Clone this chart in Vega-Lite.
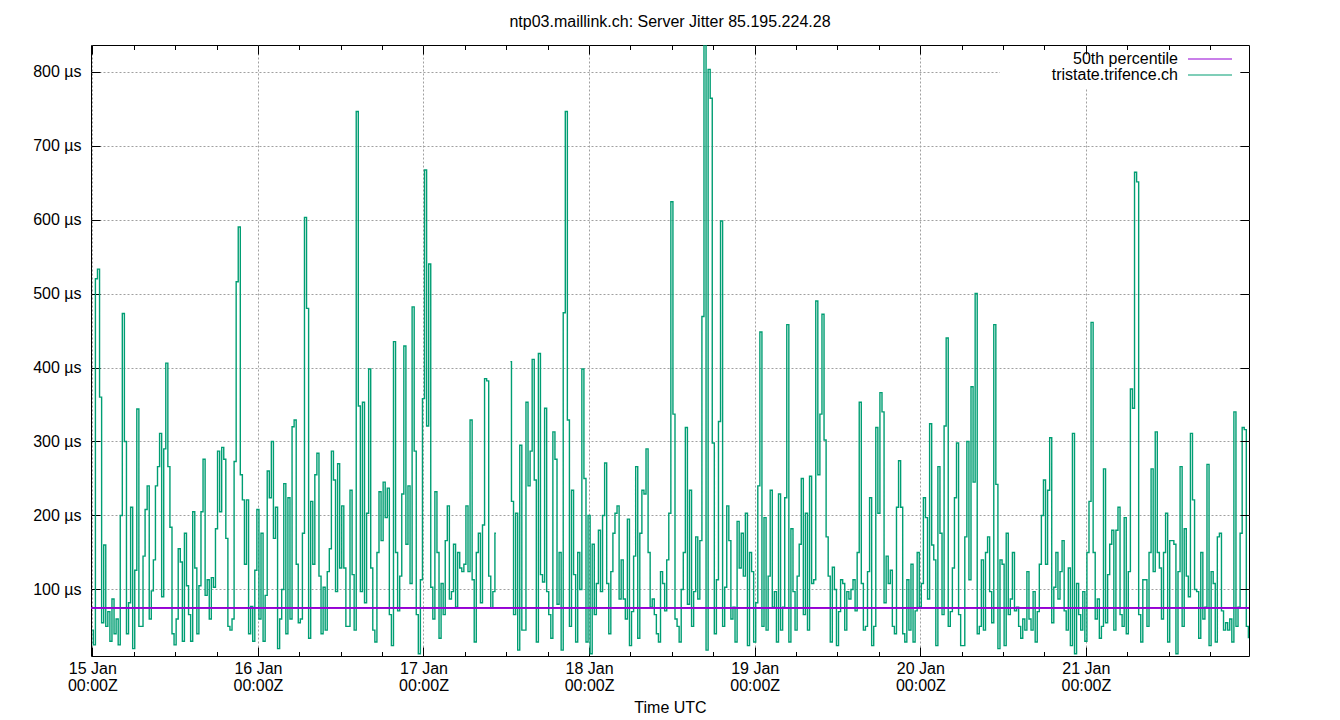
{
"$schema":"https://vega.github.io/schema/vega-lite/v6.json",
"width":1158,"height":611,
"autosize":{"type":"none"},
"padding":{"left":91,"top":45,"right":91,"bottom":64},
"background":"white",
"title":{"text":"ntp03.maillink.ch: Server Jitter 85.195.224.28","frame":"group","anchor":"middle","baseline":"alphabetic","offset":2,"fontSize":16,"font":"Liberation Sans","fontWeight":"normal","color":"black"},
"datasets":{
"jitter":[
{"i":0,"v":45},{"i":1,"v":25},{"i":2,"v":520},{"i":3,"v":533},{"i":4,"v":360},{"i":5,"v":55},{"i":6,"v":160},{"i":7,"v":50},{"i":8,"v":70},{"i":9,"v":30},
{"i":10,"v":87},{"i":11,"v":40},{"i":12,"v":60},{"i":13,"v":25},{"i":14,"v":200},{"i":15,"v":473},{"i":16,"v":300},{"i":17,"v":40},{"i":18,"v":82},{"i":19,"v":211},
{"i":20,"v":20},{"i":21,"v":126},{"i":22,"v":344},{"i":23,"v":50},{"i":24,"v":50},{"i":25,"v":145},{"i":26,"v":208},{"i":27,"v":240},{"i":28,"v":60},{"i":29,"v":98},
{"i":30,"v":140},{"i":31,"v":240},{"i":32,"v":266},{"i":33,"v":311},{"i":34,"v":90},{"i":35,"v":290},{"i":36,"v":406},{"i":37,"v":266},{"i":38,"v":184},{"i":39,"v":40},
{"i":40,"v":25},{"i":41,"v":60},{"i":42,"v":155},{"i":43,"v":137},{"i":44,"v":30},{"i":45,"v":176},{"i":46,"v":105},{"i":47,"v":66},{"i":48,"v":30},{"i":49,"v":205},
{"i":50,"v":129},{"i":51,"v":40},{"i":52,"v":105},{"i":53,"v":205},{"i":54,"v":276},{"i":55,"v":92},{"i":56,"v":113},{"i":57,"v":60},{"i":58,"v":116},{"i":59,"v":103},
{"i":60,"v":182},{"i":61,"v":287},{"i":62,"v":205},{"i":63,"v":292},{"i":64,"v":276},{"i":65,"v":169},{"i":66,"v":50},{"i":67,"v":45},{"i":68,"v":60},{"i":69,"v":273},
{"i":70,"v":516},{"i":71,"v":590},{"i":72,"v":255},{"i":73,"v":221},{"i":74,"v":134},{"i":75,"v":221},{"i":76,"v":40},{"i":77,"v":77},{"i":78,"v":30},{"i":79,"v":126},
{"i":80,"v":208},{"i":81,"v":60},{"i":82,"v":176},{"i":83,"v":30},{"i":84,"v":92},{"i":85,"v":260},{"i":86,"v":224},{"i":87,"v":300},{"i":88,"v":169},{"i":89,"v":211},
{"i":90,"v":20},{"i":91,"v":60},{"i":92,"v":100},{"i":93,"v":243},{"i":94,"v":40},{"i":95,"v":224},{"i":96,"v":60},{"i":97,"v":320},{"i":98,"v":329},{"i":99,"v":134},
{"i":100,"v":55},{"i":101,"v":60},{"i":102,"v":176},{"i":103,"v":603},{"i":104,"v":480},{"i":105,"v":34},{"i":106,"v":219},{"i":107,"v":134},{"i":108,"v":255},{"i":109,"v":284},
{"i":110,"v":118},{"i":111,"v":40},{"i":112,"v":103},{"i":113,"v":45},{"i":114,"v":124},{"i":115,"v":155},{"i":116,"v":287},{"i":117,"v":248},{"i":118,"v":97},{"i":119,"v":270},
{"i":120,"v":129},{"i":121,"v":213},{"i":122,"v":129},{"i":123,"v":50},{"i":124,"v":50},{"i":125,"v":234},{"i":126,"v":120},{"i":127,"v":45},{"i":128,"v":746},{"i":129,"v":348},
{"i":130,"v":97},{"i":131,"v":353},{"i":132,"v":82},{"i":133,"v":203},{"i":134,"v":398},{"i":135,"v":129},{"i":136,"v":45},{"i":137,"v":29},{"i":138,"v":150},{"i":139,"v":232},
{"i":140,"v":166},{"i":141,"v":245},{"i":142,"v":197},{"i":143,"v":237},{"i":144,"v":66},{"i":145,"v":24},{"i":146,"v":435},{"i":147,"v":150},{"i":148,"v":71},{"i":149,"v":118},
{"i":150,"v":229},{"i":151,"v":429},{"i":152,"v":161},{"i":153,"v":240},{"i":154,"v":108},{"i":155,"v":482},{"i":156,"v":287},{"i":157,"v":66},{"i":158,"v":13},{"i":159,"v":113},
{"i":160,"v":358},{"i":161,"v":667},{"i":162,"v":321},{"i":163,"v":540},{"i":164,"v":103},{"i":165,"v":60},{"i":166,"v":232},{"i":167,"v":150},{"i":168,"v":34},{"i":169,"v":108},
{"i":170,"v":66},{"i":171,"v":166},{"i":172,"v":213},{"i":173,"v":87},{"i":174,"v":97},{"i":175,"v":161},{"i":176,"v":76},{"i":177,"v":150},{"i":178,"v":129},{"i":179,"v":124},
{"i":180,"v":134},{"i":181,"v":213},{"i":182,"v":124},{"i":183,"v":329},{"i":184,"v":113},{"i":185,"v":29},{"i":186,"v":150},{"i":187,"v":176},{"i":188,"v":82},{"i":189,"v":187},
{"i":190,"v":385},{"i":191,"v":382},{"i":192,"v":118},{"i":193,"v":75},{"i":194,"v":97},{"i":195,"v":176},{"i":196,"v":null},{"i":197,"v":null},{"i":198,"v":null},{"i":199,"v":null},
{"i":200,"v":null},{"i":201,"v":null},{"i":202,"v":408},{"i":203,"v":219},{"i":204,"v":66},{"i":205,"v":203},{"i":206,"v":18},{"i":207,"v":295},{"i":208,"v":45},{"i":209,"v":45},
{"i":210,"v":353},{"i":211,"v":240},{"i":212,"v":287},{"i":213,"v":411},{"i":214,"v":248},{"i":215,"v":29},{"i":216,"v":419},{"i":217,"v":120},{"i":218,"v":110},{"i":219,"v":345},
{"i":220,"v":97},{"i":221,"v":66},{"i":222,"v":34},{"i":223,"v":313},{"i":224,"v":276},{"i":225,"v":80},{"i":226,"v":150},{"i":227,"v":18},{"i":228,"v":474},{"i":229,"v":746},
{"i":230,"v":329},{"i":231,"v":50},{"i":232,"v":234},{"i":233,"v":120},{"i":234,"v":29},{"i":235,"v":150},{"i":236,"v":100},{"i":237,"v":398},{"i":238,"v":250},{"i":239,"v":29},
{"i":240,"v":200},{"i":241,"v":13},{"i":242,"v":161},{"i":243,"v":66},{"i":244,"v":108},{"i":245,"v":180},{"i":246,"v":97},{"i":247,"v":200},{"i":248,"v":271},{"i":249,"v":108},
{"i":250,"v":40},{"i":251,"v":124},{"i":252,"v":176},{"i":253,"v":203},{"i":254,"v":213},{"i":255,"v":87},{"i":256,"v":140},{"i":257,"v":87},{"i":258,"v":60},{"i":259,"v":195},
{"i":260,"v":24},{"i":261,"v":70},{"i":262,"v":145},{"i":263,"v":266},{"i":264,"v":34},{"i":265,"v":176},{"i":266,"v":234},{"i":267,"v":229},{"i":268,"v":290},{"i":269,"v":150},
{"i":270,"v":76},{"i":271,"v":87},{"i":272,"v":66},{"i":273,"v":40},{"i":274,"v":29},{"i":275,"v":124},{"i":276,"v":108},{"i":277,"v":71},{"i":278,"v":140},{"i":279,"v":203},
{"i":280,"v":624},{"i":281,"v":337},{"i":282,"v":60},{"i":283,"v":50},{"i":284,"v":29},{"i":285,"v":100},{"i":286,"v":150},{"i":287,"v":319},{"i":288,"v":80},{"i":289,"v":234},
{"i":290,"v":50},{"i":291,"v":97},{"i":292,"v":171},{"i":293,"v":87},{"i":294,"v":166},{"i":295,"v":469},{"i":296,"v":840},{"i":297,"v":18},{"i":298,"v":803},{"i":299,"v":764},
{"i":300,"v":298},{"i":301,"v":40},{"i":302,"v":113},{"i":303,"v":327},{"i":304,"v":598},{"i":305,"v":50},{"i":306,"v":103},{"i":307,"v":213},{"i":308,"v":166},{"i":309,"v":60},
{"i":310,"v":76},{"i":311,"v":29},{"i":312,"v":192},{"i":313,"v":129},{"i":314,"v":176},{"i":315,"v":118},{"i":316,"v":203},{"i":317,"v":24},{"i":318,"v":150},{"i":319,"v":124},
{"i":320,"v":29},{"i":321,"v":82},{"i":322,"v":240},{"i":323,"v":448},{"i":324,"v":50},{"i":325,"v":197},{"i":326,"v":45},{"i":327,"v":118},{"i":328,"v":234},{"i":329,"v":76},
{"i":330,"v":97},{"i":331,"v":29},{"i":332,"v":229},{"i":333,"v":45},{"i":334,"v":76},{"i":335,"v":224},{"i":336,"v":458},{"i":337,"v":29},{"i":338,"v":182},{"i":339,"v":97},
{"i":340,"v":45},{"i":341,"v":118},{"i":342,"v":161},{"i":343,"v":250},{"i":344,"v":66},{"i":345,"v":203},{"i":346,"v":45},{"i":347,"v":253},{"i":348,"v":108},{"i":349,"v":113},
{"i":350,"v":490},{"i":351,"v":255},{"i":352,"v":337},{"i":353,"v":472},{"i":354,"v":302},{"i":355,"v":171},{"i":356,"v":118},{"i":357,"v":29},{"i":358,"v":130},{"i":359,"v":100},
{"i":360,"v":24},{"i":361,"v":70},{"i":362,"v":113},{"i":363,"v":108},{"i":364,"v":45},{"i":365,"v":97},{"i":366,"v":87},{"i":367,"v":100},{"i":368,"v":113},{"i":369,"v":71},
{"i":370,"v":150},{"i":371,"v":353},{"i":372,"v":108},{"i":373,"v":45},{"i":374,"v":50},{"i":375,"v":124},{"i":376,"v":224},{"i":377,"v":24},{"i":378,"v":50},{"i":379,"v":319},
{"i":380,"v":203},{"i":381,"v":366},{"i":382,"v":340},{"i":383,"v":82},{"i":384,"v":145},{"i":385,"v":108},{"i":386,"v":126},{"i":387,"v":50},{"i":388,"v":40},{"i":389,"v":211},
{"i":390,"v":274},{"i":391,"v":211},{"i":392,"v":40},{"i":393,"v":29},{"i":394,"v":113},{"i":395,"v":45},{"i":396,"v":134},{"i":397,"v":29},{"i":398,"v":71},{"i":399,"v":150},
{"i":400,"v":76},{"i":401,"v":108},{"i":402,"v":224},{"i":403,"v":197},{"i":404,"v":87},{"i":405,"v":324},{"i":406,"v":160},{"i":407,"v":140},{"i":408,"v":24},{"i":409,"v":266},
{"i":410,"v":176},{"i":411,"v":66},{"i":412,"v":321},{"i":413,"v":440},{"i":414,"v":50},{"i":415,"v":70},{"i":416,"v":129},{"i":417,"v":224},{"i":418,"v":298},{"i":419,"v":66},
{"i":420,"v":24},{"i":421,"v":24},{"i":422,"v":171},{"i":423,"v":300},{"i":424,"v":113},{"i":425,"v":374},{"i":426,"v":245},{"i":427,"v":500},{"i":428,"v":40},{"i":429,"v":50},
{"i":430,"v":140},{"i":431,"v":45},{"i":432,"v":150},{"i":433,"v":171},{"i":434,"v":97},{"i":435,"v":55},{"i":436,"v":458},{"i":437,"v":242},{"i":438,"v":20},{"i":439,"v":140},
{"i":440,"v":134},{"i":441,"v":24},{"i":442,"v":176},{"i":443,"v":66},{"i":444,"v":87},{"i":445,"v":150},{"i":446,"v":71},{"i":447,"v":76},{"i":448,"v":50},{"i":449,"v":34},
{"i":450,"v":60},{"i":451,"v":45},{"i":452,"v":124},{"i":453,"v":60},{"i":454,"v":45},{"i":455,"v":97},{"i":456,"v":29},{"i":457,"v":70},{"i":458,"v":134},{"i":459,"v":200},
{"i":460,"v":248},{"i":461,"v":134},{"i":462,"v":234},{"i":463,"v":305},{"i":464,"v":55},{"i":465,"v":103},{"i":466,"v":150},{"i":467,"v":87},{"i":468,"v":124},{"i":469,"v":166},
{"i":470,"v":71},{"i":471,"v":45},{"i":472,"v":129},{"i":473,"v":24},{"i":474,"v":311},{"i":475,"v":13},{"i":476,"v":108},{"i":477,"v":66},{"i":478,"v":45},{"i":479,"v":97},
{"i":480,"v":30},{"i":481,"v":150},{"i":482,"v":219},{"i":483,"v":461},{"i":484,"v":150},{"i":485,"v":60},{"i":486,"v":87},{"i":487,"v":34},{"i":488,"v":50},{"i":489,"v":263},
{"i":490,"v":55},{"i":491,"v":120},{"i":492,"v":161},{"i":493,"v":180},{"i":494,"v":45},{"i":495,"v":180},{"i":496,"v":211},{"i":497,"v":66},{"i":498,"v":50},{"i":499,"v":197},
{"i":500,"v":40},{"i":501,"v":124},{"i":502,"v":371},{"i":503,"v":345},{"i":504,"v":664},{"i":505,"v":651},{"i":506,"v":66},{"i":507,"v":29},{"i":508,"v":113},{"i":509,"v":113},
{"i":510,"v":50},{"i":511,"v":150},{"i":512,"v":263},{"i":513,"v":124},{"i":514,"v":313},{"i":515,"v":150},{"i":516,"v":129},{"i":517,"v":60},{"i":518,"v":150},{"i":519,"v":203},
{"i":520,"v":29},{"i":521,"v":166},{"i":522,"v":166},{"i":523,"v":161},{"i":524,"v":13},{"i":525,"v":124},{"i":526,"v":266},{"i":527,"v":50},{"i":528,"v":182},{"i":529,"v":118},
{"i":530,"v":90},{"i":531,"v":311},{"i":532,"v":221},{"i":533,"v":100},{"i":534,"v":97},{"i":535,"v":34},{"i":536,"v":150},{"i":537,"v":60},{"i":538,"v":76},{"i":539,"v":269},
{"i":540,"v":24},{"i":541,"v":124},{"i":542,"v":108},{"i":543,"v":29},{"i":544,"v":171},{"i":545,"v":176},{"i":546,"v":71},{"i":547,"v":45},{"i":548,"v":55},{"i":549,"v":45},
{"i":550,"v":60},{"i":551,"v":29},{"i":552,"v":340},{"i":553,"v":50},{"i":554,"v":76},{"i":555,"v":176},{"i":556,"v":319},{"i":557,"v":316},{"i":558,"v":50},{"i":559,"v":35}
],
"median":[{"i":-0.63,"v":75},{"i":558.8,"v":75}]
},
"layer":[
{"data":{"name":"jitter"},
 "mark":{"type":"line","interpolate":"step","strokeWidth":1.4,"clip":true,"invalid":"break-paths-filter-domains"},
 "encoding":{
  "x":{"field":"i","type":"quantitative","scale":{"domain":[-0.63,558.8],"nice":false,"zero":false},
   "axis":{"orient":"bottom","values":[0,80,160,240,320,400,480],"labelExpr":"[(15+datum.value/80)+' Jan','00:00Z']","ticks":false,"domain":false,"grid":true,"labelPadding":4,"labelLineHeight":17,"labelFlush":false,"labelOverlap":false,"labelBaseline":"top","title":"Time UTC","titleY":56,"titleBaseline":"alphabetic"}},
  "y":{"field":"v","type":"quantitative","scale":{"domain":[10,836],"nice":false,"zero":false},
   "axis":{"orient":"left","values":[100,200,300,400,500,600,700,800],"labelExpr":"datum.value+' µs'","ticks":false,"domain":false,"grid":true,"labelPadding":10,"title":null}},
  "color":{"datum":"tristate.trifence.ch","type":"nominal","scale":{"domain":["50th percentile","tristate.trifence.ch"],"range":["#9400d3","#009e73"]},"legend":{"title":null}}
 }},
{"data":{"name":"median"},
 "mark":{"type":"line","strokeWidth":1.2,"clip":true},
 "encoding":{
  "x":{"field":"i","type":"quantitative","axis":{"orient":"bottom","values":[0,80,160,240,320,400,480],"labels":false,"grid":false,"domain":false,"ticks":true,"tickSize":-9,"title":null}},
  "y":{"field":"v","type":"quantitative","axis":{"orient":"left","values":[100,200,300,400,500,600,700,800],"labels":false,"grid":false,"domain":false,"ticks":true,"tickSize":-9,"title":null}},
  "color":{"datum":"50th percentile","type":"nominal"}
 }},
{"data":{"name":"median"},
 "mark":{"type":"line","strokeWidth":1.2,"clip":true},
 "encoding":{
  "x":{"field":"i","type":"quantitative","axis":{"orient":"bottom","values":[20,40,60,100,120,140,180,200,220,260,280,300,340,360,380,420,440,460,500,520,540],"labels":false,"grid":false,"domain":false,"ticks":true,"tickSize":-4.5,"title":null}},
  "y":{"field":"v","type":"quantitative","axis":{"orient":"right","values":[100,200,300,400,500,600,700,800],"labels":false,"grid":false,"domain":false,"ticks":true,"tickSize":-9,"title":null,"zindex":2}},
  "color":{"datum":"50th percentile","type":"nominal"}
 }},
{"data":{"name":"median"},
 "mark":{"type":"line","strokeWidth":1.2,"clip":true},
 "encoding":{
  "x":{"field":"i","type":"quantitative","axis":{"orient":"top","values":[0,80,160,240,320,400,480],"labels":false,"grid":false,"domain":false,"ticks":true,"tickSize":-9,"title":null,"zindex":2}},
  "y":{"field":"v","type":"quantitative","axis":null},
  "color":{"datum":"50th percentile","type":"nominal"}
 }},
{"data":{"name":"median"},
 "mark":{"type":"line","strokeWidth":1.2,"clip":true},
 "encoding":{
  "x":{"field":"i","type":"quantitative","axis":{"orient":"top","values":[20,40,60,100,120,140,180,200,220,260,280,300,340,360,380,420,440,460,500,520,540],"labels":false,"grid":false,"domain":false,"ticks":true,"tickSize":-4.5,"title":null,"zindex":2}},
  "y":{"field":"v","type":"quantitative","axis":null},
  "color":{"datum":"50th percentile","type":"nominal"}
 }}
],
"resolve":{"axis":{"x":"independent","y":"independent"}},
"config":{
 "view":{"stroke":"black","strokeWidth":1},
 "axis":{"labelFont":"Liberation Sans","labelFontSize":16,"labelColor":"black","titleFont":"Liberation Sans","titleFontSize":16,"titleColor":"black","titleFontWeight":"normal","tickColor":"black","tickWidth":1,"gridColor":"#a0a0a0","gridDash":[2,2],"gridWidth":1,"gridOpacity":1,"domain":false},
 "legend":{"orient":"none","legendX":909,"legendY":1,"zindex":1,"symbolType":"M-4,0H4","symbolSize":121,"symbolStrokeWidth":1.2,"labelFont":"Liberation Sans","labelFontSize":16,"labelColor":"black","labelAlign":"right","labelOffset":-40,"symbolOffset":197,"rowPadding":-1,"padding":5,"fillColor":"white","labelLimit":0}
}
}
